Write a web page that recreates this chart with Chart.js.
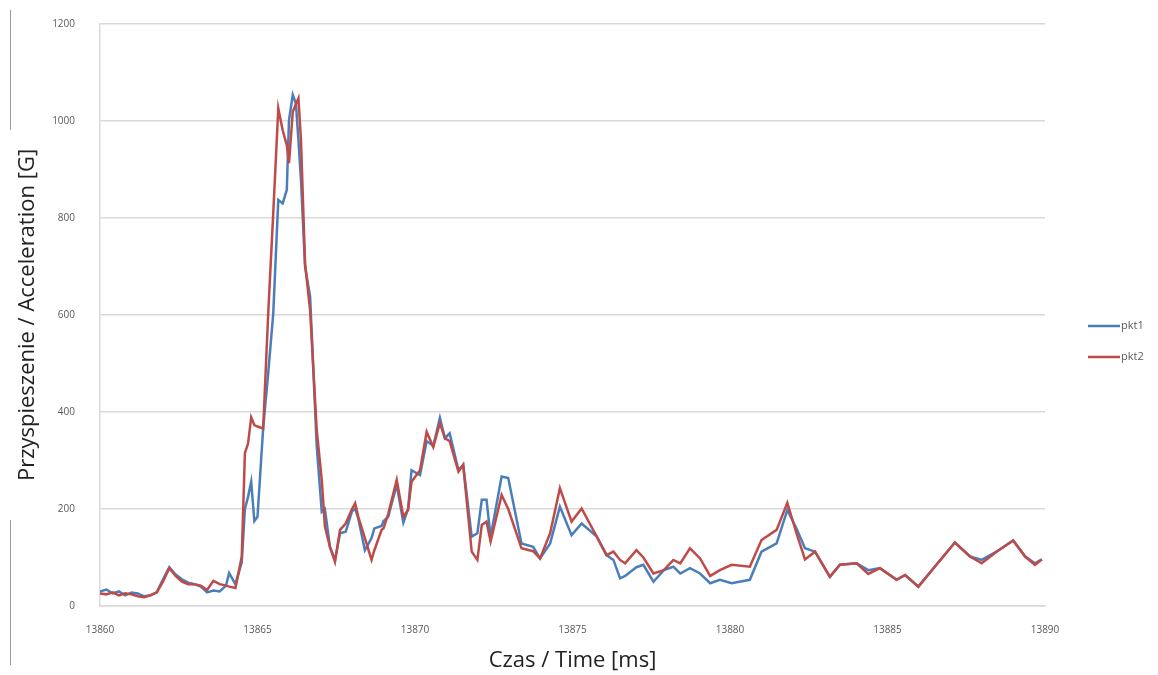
<!DOCTYPE html>
<html>
<head>
<meta charset="utf-8">
<script src="https://cdn.jsdelivr.net/npm/chart.js@4"></script>
<style>
  html, body { margin: 0; padding: 0; background: #fff; }
  #wrap { position: relative; width: 1158px; height: 675px; }
  .edge { position: absolute; left: 10px; width: 1px; background: #9a9a9a; }
</style>
</head>
<body>
<div id="wrap">
  <canvas id="myChart" width="1158" height="675"></canvas>
  <div class="edge" style="top:10px;height:120px"></div>
  <div class="edge" style="top:520px;height:145px"></div>
</div>
<script>
// czas [ms]
var times = [
  13860.0, 13860.2, 13860.4, 13860.6, 13860.8, 13861.0, 13861.2, 13861.4, 13861.6, 13861.8,
  13862.0, 13862.2, 13862.4, 13862.6, 13862.8, 13863.0, 13863.2, 13863.4, 13863.6, 13863.8,
  13864.0, 13864.1, 13864.3, 13864.5, 13864.6, 13864.7, 13864.8, 13864.9, 13865.0, 13865.18,
  13865.34, 13865.5, 13865.66, 13865.8, 13865.93, 13866.0, 13866.12, 13866.22, 13866.3, 13866.38,
  13866.51, 13866.67, 13866.88, 13867.04, 13867.14, 13867.3, 13867.46, 13867.62, 13867.8, 13868.0,
  13868.1, 13868.2, 13868.41, 13868.62, 13868.71, 13868.94, 13869.0, 13869.15, 13869.42, 13869.63,
  13869.78, 13869.89, 13870.16, 13870.37, 13870.58, 13870.79, 13870.95, 13871.1, 13871.38, 13871.53,
  13871.8, 13871.98, 13872.12, 13872.27, 13872.4, 13872.75, 13872.96, 13873.38, 13873.75, 13873.97,
  13874.29, 13874.6, 13874.97, 13875.29, 13875.77, 13876.08, 13876.3, 13876.51, 13876.67, 13877.03,
  13877.25, 13877.57, 13877.9, 13878.2, 13878.42, 13878.73, 13879.05, 13879.37, 13879.68, 13880.05,
  13880.63, 13881.0, 13881.48, 13881.82, 13882.11, 13882.38, 13882.7, 13883.17, 13883.49, 13884.02,
  13884.39, 13884.76, 13885.29, 13885.56, 13885.98, 13886.46, 13887.14, 13887.62, 13887.99, 13888.46,
  13888.99, 13889.37, 13889.68, 13889.9
];
var pkt1 = [
  30, 34, 26, 30, 22, 28, 26, 20, 22, 28,
  55, 80, 65, 55, 48, 45, 40, 28, 32, 30,
  42, 68, 45, 90, 200, 225, 256, 175, 184, 367,
  480, 603, 837, 830, 858, 1002, 1054, 1036, 960, 878,
  700, 638, 330, 194, 200, 122, 95, 150, 153, 195,
  201, 180, 115, 140, 160, 165, 175, 184, 250, 172,
  200, 280, 270, 340, 330, 388, 346, 356, 280, 291,
  143, 150, 219, 219, 143, 267, 264, 129, 122, 98,
  129, 205, 146, 170, 143, 105, 95, 57, 62, 80,
  85, 50, 74, 81, 67, 78, 67, 47, 54, 47,
  54, 112, 129, 198, 160, 119, 112, 60, 85, 88,
  74, 78, 54, 64, 40, 78, 131, 102, 95, 112,
  135, 102, 88, 96
];
var pkt2 = [
  26, 24, 28, 22, 26, 24, 20, 18, 22, 28,
  50, 78, 62, 50, 45, 45, 42, 33, 52, 45,
  42, 40, 37, 102, 315, 335, 389, 373, 370, 366,
  603, 810, 1026, 981, 950, 913, 1019, 1035, 1047, 960,
  706, 610, 363, 260, 164, 122, 91, 157, 170, 200,
  212, 184, 140, 95, 115, 157, 160, 190, 260, 184,
  198, 256, 280, 359, 328, 377, 346, 340, 277, 291,
  112, 95, 167, 174, 133, 229, 200, 119, 113, 98,
  150, 243, 174, 201, 143, 105, 112, 95, 88, 115,
  100, 67, 74, 95, 88, 119, 98, 62, 74, 85,
  81, 136, 157, 213, 150, 96, 112, 60, 85, 88,
  66, 78, 54, 64, 40, 78, 131, 102, 88, 112,
  135, 102, 85, 96
];
var seriesNames = ['pkt1', 'pkt2'];
var seriesColors = ['#4a7ebb', '#be4b48'];
var yTicks = [0, 200, 400, 600, 800, 1000, 1200];
var xTicks = [13860, 13865, 13870, 13875, 13880, 13885, 13890];

function toPoints(values) {
  return values.map(function(v, i) { return { x: times[i], y: v }; });
}

// legenda po prawej stronie, rysowana recznie
var sideLegend = {
  id: 'sideLegend',
  afterDraw: function(chart) {
    var ctx = chart.ctx;
    ctx.save();
    seriesNames.forEach(function(name, i) {
      var y = 326 + i * 31;
      ctx.strokeStyle = seriesColors[i];
      ctx.lineWidth = 2.5;
      ctx.beginPath();
      ctx.moveTo(1088, y);
      ctx.lineTo(1120, y);
      ctx.stroke();
      ctx.fillStyle = '#595959';
      ctx.font = '11px "Open Sans"';
      ctx.textBaseline = 'middle';
      ctx.fillText(name, 1121, y);
    });
    ctx.restore();
  }
};

var ctx = document.getElementById('myChart');
new Chart(ctx, {
  type: 'line',
  data: {
    datasets: [
      { label: seriesNames[0], data: toPoints(pkt1), borderColor: seriesColors[0], backgroundColor: seriesColors[0], order: 1 },
      { label: seriesNames[1], data: toPoints(pkt2), borderColor: seriesColors[1], backgroundColor: seriesColors[1], order: 0 }
    ]
  },
  options: {
    responsive: false,
    animation: false,
    layout: { padding: { left: 0, right: 113, top: 24, bottom: 0 } },
    elements: {
      point: { radius: 0 },
      line: { borderWidth: 2.5, tension: 0 }
    },
    plugins: {
      legend: { display: false },
      tooltip: { enabled: false }
    },
    scales: {
      x: {
        type: 'linear',
        min: 13860,
        max: 13890,
        afterBuildTicks: function(axis) { axis.ticks = xTicks.map(function(v) { return { value: v }; }); },
        afterFit: function(axis) {
          axis.height = 69;
          axis.paddingLeft = 0;
          axis.paddingRight = 0;
        },
        ticks: {
          color: '#595959',
          font: { family: 'Open Sans', size: 10 },
          padding: 18,
          maxRotation: 0,
          callback: function(v) { return String(v); }
        },
        grid: { display: false, drawTicks: false },
        border: { display: true, color: '#d9d9d9', width: 1.5 },
        title: {
          display: true,
          text: 'Czas / Time [ms]',
          color: '#222',
          font: { family: 'Open Sans', size: 22 },
          padding: { top: 0, bottom: 1 }
        }
      },
      y: {
        min: 0,
        max: 1200,
        afterBuildTicks: function(axis) { axis.ticks = yTicks.map(function(v) { return { value: v }; }); },
        afterFit: function(axis) {
          axis.width = 100;
          axis.paddingTop = 0;
          axis.paddingBottom = 0;
        },
        ticks: {
          color: '#595959',
          font: { family: 'Open Sans', size: 10 },
          padding: 25,
          callback: function(v) { return String(v); }
        },
        grid: { color: '#d9d9d9', lineWidth: 1.5, drawTicks: false },
        border: { display: true, color: '#d9d9d9', width: 1.5 },
        title: {
          display: true,
          text: 'Przyspieszenie / Acceleration [G]',
          color: '#222',
          font: { family: 'Open Sans', size: 22 },
          padding: { top: 15, bottom: 0 }
        }
      }
    }
  },
  plugins: [sideLegend]
});
</script>
</body>
</html>
